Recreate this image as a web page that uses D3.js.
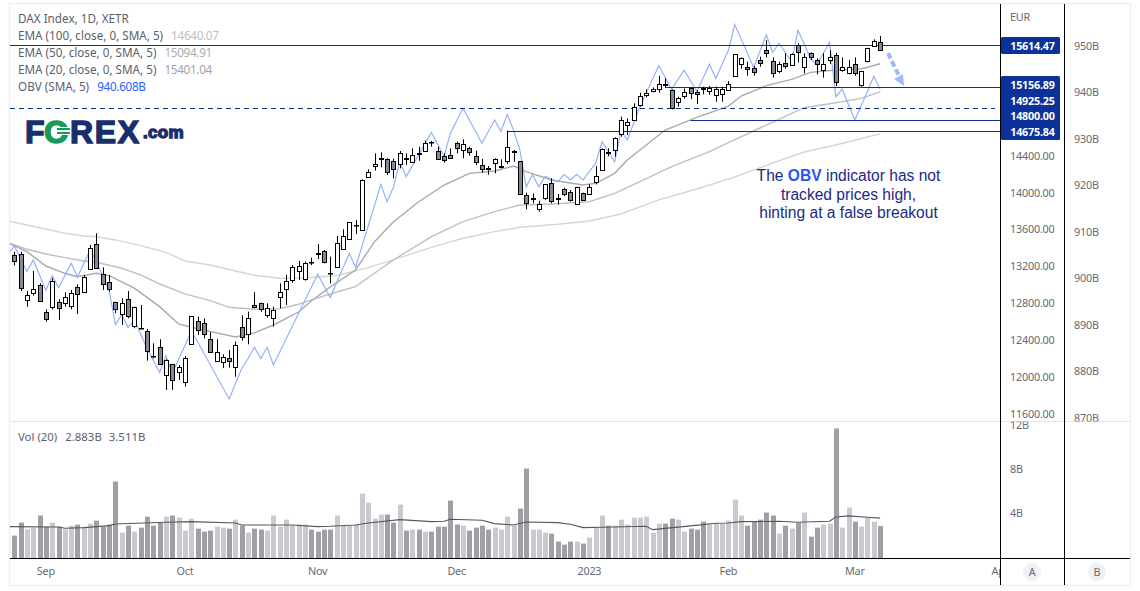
<!DOCTYPE html>
<html>
<head>
<meta charset="utf-8">
<script src="https://cdn.jsdelivr.net/npm/d3@7"></script>
<style>
html, body { margin: 0; padding: 0; background: #fff; overflow: hidden; }
text { font-family: "Noto Sans", sans-serif; font-size: 11.7px; fill: #5d606b; }
.tick-lbl { fill: #666973; font-size: 10.8px; letter-spacing: -0.2px; }
</style>
</head>
<body>
<div id="chart"></div>
<script>
// open, high, low, close
const ohlc = [
[13326,13362,13210,13264],[13333,13362,12935,12960],[12834,12935,12765,12888],[12906,13152,12884,12953],
[13004,13018,12819,12834],[12704,12736,12602,12628],[12758,13073,12733,13040],[12819,12845,12620,12758],
[12801,12921,12765,12866],[12769,12946,12736,12910],[12975,13007,12686,12899],[12921,13109,12917,13083],
[13170,13434,13167,13398],[13441,13561,13177,13181],[13123,13192,12946,13018],[13029,13109,12928,12953],
[12812,12819,12693,12736],[12678,12855,12566,12801],[12845,12935,12638,12660],[12552,12765,12530,12758],
[12530,12783,12524,12526],[12497,12523,12179,12280],[12226,12367,12204,12222],[12324,12411,12132,12139],
[12020,12194,11861,12183],[12139,12143,11861,11962],[12053,12132,11969,12107],[11944,12230,11897,12204],
[12356,12664,12353,12660],[12606,12657,12458,12508],[12584,12638,12421,12465],[12411,12487,12266,12270],
[12172,12411,12168,12270],[12161,12248,12100,12215],[12204,12295,12103,12168],[12107,12385,12005,12345],
[12541,12671,12396,12432],[12465,12711,12356,12638],[12780,12921,12747,12758],[12805,12808,12711,12736],
[12678,12801,12646,12754],[12638,12765,12548,12725],[12866,13018,12747,12921],[12964,13109,12783,13047],
[13047,13217,13025,13192],[13148,13261,13054,13203],[13062,13253,13047,13235],[13253,13297,13217,13250],
[13347,13445,13282,13333],[13365,13380,13235,13246],[13130,13308,13018,13127],[13192,13532,13188,13452],
[13383,13604,13380,13528],[13496,13684,13492,13680],[13651,13705,13553,13655],[13593,14147,13590,14136],
[14168,14255,14165,14223],[14284,14429,14241,14309],[14367,14440,14277,14375],[14364,14375,14194,14223],
[14342,14371,14157,14255],[14306,14454,14266,14429],[14382,14429,14302,14375],[14342,14483,14331,14414],
[14429,14501,14349,14422],[14450,14566,14447,14537],[14548,14563,14501,14545],[14458,14501,14371,14375],
[14396,14429,14327,14353],[14414,14483,14375,14385],[14537,14555,14429,14483],[14465,14581,14375,14526],
[14483,14501,14403,14440],[14396,14458,14302,14331],[14299,14367,14219,14255],[14266,14291,14197,14259],
[14320,14375,14212,14364],[14288,14364,14266,14295],[14342,14676,14313,14494],[14447,14465,14338,14454],
[14342,14346,13980,13984],[13973,14002,13821,13886],[13933,13995,13886,13940],[13821,13915,13796,13875],
[13937,14096,13922,14092],[14103,14157,13886,13908],[13940,13988,13872,13933],[14038,14056,13966,13980],
[14006,14031,13904,13915],[13879,14067,13875,14060],[13995,14002,13912,13919],[13984,14092,13980,14060],
[14110,14291,14092,14179],[14255,14483,14248,14479],[14440,14483,14396,14429],[14472,14602,14393,14599],
[14638,14827,14610,14787],[14729,14808,14628,14765],[14798,14971,14790,14935],[14953,15087,14935,15047],
[15054,15123,15036,15080],[15101,15145,15091,15123],[15123,15271,15087,15177],[15177,15243,15145,15170],
[15112,15123,14906,14913],[14982,15044,14935,15025],[15051,15134,15022,15091],[15134,15145,15018,15080],
[15091,15116,14964,15069],[15134,15152,15069,15123],[15109,15159,15065,15141],[15054,15152,14989,15123],
[15069,15152,14989,15123],[15116,15214,15109,15177],[15264,15507,15261,15503],[15405,15470,15347,15467],
[15362,15423,15271,15340],[15351,15376,15271,15308],[15438,15478,15369,15405],[15546,15658,15470,15514],
[15431,15470,15250,15297],[15315,15423,15297,15394],[15405,15514,15347,15373],[15384,15514,15380,15507],
[15601,15622,15416,15525],[15362,15514,15297,15470],[15514,15525,15441,15470],[15438,15460,15286,15394],
[15333,15514,15250,15394],[15441,15550,15398,15470],[15492,15521,15159,15203],[15337,15470,15315,15369],
[15297,15441,15286,15362],[15394,15470,15271,15297],[15163,15322,15152,15318],[15427,15575,15416,15568],
[15590,15666,15586,15644],[15633,15702,15542,15546]
];

// volume in billions, one per bar
const volume = [
2.02,3.19,2.59,2.74,3.83,2.83,3.19,2.83,2.59,2.92,3.01,2.74,3.10,3.37,2.83,3.01,6.90,2.29,2.92,2.38,
2.74,3.73,2.92,3.19,3.73,3.83,3.64,2.47,3.55,2.65,2.38,2.47,2.83,2.74,2.65,3.46,2.92,2.29,2.65,2.56,
2.47,3.83,2.83,3.46,2.92,3.01,3.01,2.56,2.38,2.56,2.56,3.83,2.92,2.92,3.01,5.81,5.00,3.55,3.92,3.92,
3.19,4.82,2.47,2.56,2.56,2.38,2.38,2.83,2.83,5.18,3.01,2.92,2.47,2.74,2.92,2.56,2.74,2.56,3.73,2.92,
4.46,8.07,2.56,2.56,2.29,2.20,1.48,1.20,1.48,1.48,1.30,1.84,2.74,3.83,2.92,2.92,3.46,3.01,3.64,3.64,
3.73,2.29,3.10,3.10,3.55,3.46,2.38,2.65,2.56,3.28,3.01,3.10,3.10,3.37,5.27,3.83,2.92,3.28,3.46,4.10,
3.83,2.20,2.92,2.65,3.19,4.10,1.93,2.74,3.01,3.10,11.69,2.74,4.55,3.28,2.83,3.64,3.28,2.88
];

// [bar, value], read at the bends of each line
const ema100 = [[-1,13695],[2,13651],[5,13608],[8,13561],[11,13532],[13,13524],[16,13489],[20,13427],[24,13355],[27,13261],[31,13217],[35,13152],[38,13106],[42,13073],[46,13076],[51,13103],[56,13188],[61,13297],[66,13409],[71,13507],[76,13579],[80,13626],[86,13659],[91,13695],[96,13771],[102,13923],[109,14064],[114,14172],[120,14324],[125,14443],[130,14519],[135,14606],[137,14640]];
const ema50 = [[-1,13459],[2,13388],[5,13337],[8,13297],[11,13261],[13,13247],[17,13182],[20,13109],[23,13011],[27,12903],[31,12830],[34,12758],[38,12737],[42,12743],[45,12791],[47,12838],[51,12924],[54,12982],[57,13127],[60,13272],[66,13524],[71,13687],[76,13796],[80,13868],[85,13879],[91,13904],[95,13995],[99,14121],[104,14284],[110,14447],[113,14544],[119,14736],[125,14924],[130,14978],[134,15026],[137,15095]];
const ema20 = [[-1,13459],[2,13362],[5,13206],[8,13127],[10,13090],[13,13127],[15,13101],[19,12965],[23,12765],[26,12577],[28,12541],[32,12480],[35,12436],[38,12480],[41,12566],[45,12707],[47,12827],[50,12979],[54,13163],[57,13470],[60,13687],[64,13904],[68,14085],[72,14212],[76,14237],[79,14291],[81,14230],[85,14140],[90,14085],[92,14104],[95,14212],[97,14357],[100,14519],[103,14682],[108,14820],[113,14942],[115,15051],[119,15163],[123,15232],[126,15308],[130,15333],[134,15344],[137,15401]];
const obv = [[-1,905.2],[0,907.0],[2,901.5],[3,904.0],[5,897.5],[6,900.6],[7,898.0],[9,903.3],[10,900.3],[12,906.1],[13,903.6],[15,897.5],[16,890.1],[17,892.2],[18,889.5],[19,891.1],[21,885.0],[23,879.8],[24,883.4],[25,879.6],[28,888.6],[29,886.4],[34,874.1],[36,880.7],[37,882.8],[38,885.2],[39,882.8],[40,885.2],[41,881.4],[48,900.9],[50,895.9],[53,905.4],[54,902.4],[58,920.2],[59,916.5],[60,919.7],[61,925.1],[62,921.9],[66,931.4],[68,926.3],[69,931.2],[71,936.6],[74,929.1],[76,934.1],[77,931.6],[78,935.3],[79,931.9],[80,927.6],[81,919.7],[82,922.3],[83,919.7],[84,922.0],[86,920.8],[87,922.4],[88,921.2],[89,922.4],[90,921.2],[92,924.8],[93,929.4],[95,925.1],[96,931.7],[97,929.8],[99,937.0],[102,945.8],[104,940.7],[106,944.8],[108,940.2],[110,946.1],[111,943.0],[113,949.1],[114,954.6],[117,945.4],[119,952.4],[120,948.6],[121,950.6],[123,946.6],[124,953.4],[126,947.3],[127,946.0],[129,950.8],[130,939.1],[131,940.7],[133,934.1],[135,940.2],[136,943.5],[137,940.7]];
const volMa = [[-1,2.83],[7,2.80],[8,2.68],[11,2.74],[15,2.92],[16,3.07],[24,3.22],[28,3.28],[35,3.16],[36,2.98],[44,2.98],[48,2.83],[50,2.86],[54,2.98],[56,3.16],[61,3.46],[66,3.28],[68,3.31],[69,3.49],[74,3.40],[76,3.10],[79,2.98],[81,3.25],[86,3.19],[88,3.04],[90,2.74],[93,2.77],[100,2.86],[101,2.56],[109,3.01],[111,3.13],[113,3.16],[115,3.28],[121,3.31],[124,3.22],[129,3.31],[130,3.70],[132,3.80],[135,3.67],[137,3.60]];

// horizontal levels drawn on the chart: start bar (null = full width), boxed label
const levels = [
    { v: 15614.47, from: null },
    { v: 15156.89, from: 103 },
    { v: 14925.25, from: null, dashed: true },
    { v: 14800.00, from: 107 },
    { v: 14675.84, from: 78 }
];

const months = [[5,"Sep"],[27,"Oct"],[48,"Nov"],[70,"Dec"],[91,"2023"],[113,"Feb"],[133,"Mar"],[156,"Apr"]];

class makeChart {

    constructor(opts) {
        this.element = opts.element;
        this.width = 1140;
        this.height = 591;
        this.pane = { left: 10, right: 1000, top: 4, split: 421.5, bottom: 558, end: 585, axisB: 1064, edge: 1130 };
        this._setScales();
        this.draw();
    }

    _setScales() {
        this.x = d3.scaleLinear().domain([0, 137]).range([14.3, 880.1]);
        this.y = d3.scaleLinear().domain([11600, 14400]).range([414, 156]);
        this.yObv = d3.scaleLinear().domain([870, 950]).range([418, 46]);
        this.yVol = d3.scaleLinear().domain([0, 12]).range([558, 425]);
    }

    draw() {
        const p = this.pane;
        this.svg = d3.select(this.element).append("svg")
            .attr("width", this.width).attr("height", this.height)
            .style("display", "block");

        let defs = this.svg.append("defs");
        let clip = (id, x, y, w, h) => defs.append("clipPath").attr("id", id)
            .append("rect").attr("x", x).attr("y", y).attr("width", w).attr("height", h);
        clip("main", p.left, p.top, p.right - p.left, p.split - p.top);
        clip("vol", p.left, p.split, p.right - p.left, p.bottom - p.split);
        clip("axis-top", p.right, p.top, p.edge - p.right, p.split - p.top);
        clip("axis-bot", p.right, p.split, p.edge - p.right, p.bottom - p.split);
        clip("time", p.left, p.bottom, p.right - p.left, p.end - p.bottom);

        this._drawFrame();
        this._drawVolume();
        this._drawMain();
        this._drawAxes();
        this._drawLabels();
    }

    _drawFrame() {
        const p = this.pane;
        this.svg.append("rect").attr("x", p.left - 0.5).attr("y", p.top - 0.5)
            .attr("width", p.edge - p.left + 1).attr("height", p.end - p.top + 1)
            .attr("fill", "none").attr("stroke", "#eff0f5").attr("stroke-width", 1.5);
        this.svg.append("line").attr("x1", p.left).attr("x2", p.edge)
            .attr("y1", p.split).attr("y2", p.split)
            .attr("stroke", "#e4e5ec").attr("stroke-width", 1);
    }

    _drawVolume() {
        const g = this.svg.append("g").attr("clip-path", "url(#vol)");
        g.selectAll("rect").data(volume).enter().append("rect")
            .attr("x", (d, i) => Math.round(this.x(i)) - 2)
            .attr("width", 5)
            .attr("y", d => this.yVol(d))
            .attr("height", d => this.yVol(0) - this.yVol(d))
            .attr("fill", (d, i) => ohlc[i][3] < ohlc[i][0] ? "#9fa0a6" : "#c9cad0");

        let line = d3.line().x(d => this.x(d[0])).y(d => this.yVol(d[1]));
        g.append("path").attr("d", line(volMa))
            .attr("fill", "none").attr("stroke", "#55575f").attr("stroke-width", 1.1);
    }

    _drawMain() {
        const p = this.pane;
        const g = this.svg.append("g").attr("clip-path", "url(#main)");

        let line = d3.line().x(d => this.x(d[0])).y(d => this.y(d[1]));
        [[ema100, "#d6d6d9"], [ema50, "#c0c0c4"], [ema20, "#a9a9ae"]].forEach(s => {
            g.append("path").attr("d", line(s[0]))
                .attr("fill", "none").attr("stroke", s[1]).attr("stroke-width", 1.4);
        });

        let obvLine = d3.line().x(d => this.x(d[0])).y(d => this.yObv(d[1]));
        g.append("path").attr("d", obvLine(obv))
            .attr("fill", "none").attr("stroke", "#94b2fa").attr("stroke-width", 1.2);

        levels.forEach(l => {
            let yy = Math.ceil(this.y(l.v)) + 0.5;
            g.append("line")
                .attr("x1", l.from === null ? p.left : this.x(l.from))
                .attr("x2", l.dashed ? 995 : p.right)
                .attr("y1", yy).attr("y2", yy)
                .attr("stroke", "#0d2f8f").attr("stroke-width", 1)
                .attr("stroke-dasharray", l.dashed ? "5,4" : null);
        });

        let bars = g.selectAll(".bar").data(ohlc).enter().append("g").attr("class", "bar")
            .attr("transform", (d, i) => `translate(${Math.round(this.x(i)) + 0.5},0)`);
        bars.append("line")
            .attr("x1", 0).attr("x2", 0)
            .attr("y1", d => this.y(d[1])).attr("y2", d => this.y(d[2]))
            .attr("stroke", "#000").attr("stroke-width", 1);
        bars.append("rect")
            .attr("x", -2).attr("width", 4)
            .attr("y", d => Math.round(this.y(Math.max(d[0], d[3]))) + 0.5)
            .attr("height", d => Math.max(0.5, Math.round(Math.abs(this.y(d[0]) - this.y(d[3])))))
            .attr("fill", d => d[3] < d[0] ? "#868993" : "#fff")
            .attr("stroke", "#000").attr("stroke-width", 1);

        // dashed arrow
        g.append("line").attr("x1", 888).attr("y1", 53).attr("x2", 899).attr("y2", 76)
            .attr("stroke", "#9db9fb").attr("stroke-width", 4).attr("stroke-dasharray", "6,3");
        g.append("path").attr("d", d3.line()([[894, 79], [903, 74], [904, 86]])).attr("fill", "#9db9fb");

        // note
        let note = g.append("g");
        let noteLine = (y, parts) => {
            let t = note.append("text").attr("x", 848.5).attr("y", y).attr("text-anchor", "middle");
            parts.forEach(s => {
                t.append("tspan").text(s[0])
                    .style("font-family", "'Liberation Sans', Arial, sans-serif")
                    .style("font-size", "15.6px")
                    .style("font-weight", s[1] ? "bold" : "normal")
                    .style("fill", s[1] ? "#2756f0" : "#1c2a84");
            });
        };
        noteLine(181, [["The ", 0], ["OBV", 1], [" indicator has not", 0]]);
        noteLine(200, [["tracked prices high,", 0]]);
        noteLine(218, [["hinting at a false breakout", 0]]);

        this._drawLogo(g);
    }

    _drawLogo(g) {
        let navy = "#182f6e";
        let logo = g.append("g");
        let put = (x, txt, size, col, ls) => logo.append("text").attr("x", x).attr("y", 142.5).text(txt)
            .style("font-family", "'Liberation Sans', Arial, sans-serif")
            .style("font-weight", "bold").style("font-size", size + "px")
            .style("letter-spacing", ls + "px")
            .style("stroke", col).style("stroke-width", 1.4).style("fill", col);
        put(25, "F", 32, navy, 0);
        put(44, "O", 32, "#189a58", 0);
        logo.append("rect").attr("x", 58).attr("y", 127).attr("width", 13).attr("height", 8).attr("fill", "#fff");
        logo.append("rect").attr("x", 57).attr("y", 128).attr("width", 13).attr("height", 2).attr("fill", "#189a58");
        logo.append("rect").attr("x", 57).attr("y", 132).attr("width", 13).attr("height", 2).attr("fill", "#189a58");
        put(70, "REX", 32, navy, 1.6);
        put(143, ".com", 17, navy, 0.3).attr("y", 138);
    }

    _drawAxes() {
        const p = this.pane;

        [p.right, p.axisB].forEach(x => {
            this.svg.append("line").attr("x1", x + 0.5).attr("x2", x + 0.5)
                .attr("y1", p.top).attr("y2", p.end)
                .attr("stroke", "#000").attr("stroke-width", 1);
        });
        this.svg.append("line").attr("x1", p.left).attr("x2", p.edge)
            .attr("y1", p.bottom + 0.5).attr("y2", p.bottom + 0.5)
            .attr("stroke", "#000").attr("stroke-width", 1);

        let top = this.svg.append("g").attr("clip-path", "url(#axis-top)");
        top.selectAll(".p").data(d3.range(11600, 14800, 400)).enter().append("text")
            .attr("class", "tick-lbl").attr("x", 1010).attr("y", d => this.y(d)).attr("dy", "0.35em")
            .text(d => d.toFixed(2));
        top.selectAll(".o").data(d3.range(870, 960, 10)).enter().append("text")
            .attr("class", "tick-lbl").attr("x", 1074).attr("y", d => this.yObv(d)).attr("dy", "0.35em")
            .text(d => d + "B");
        top.append("text").attr("class", "tick-lbl").attr("x", 1010).attr("y", 17).attr("dy", "0.35em").text("EUR");

        let bot = this.svg.append("g").attr("clip-path", "url(#axis-bot)");
        bot.selectAll("text").data([4, 8, 12]).enter().append("text")
            .attr("class", "tick-lbl").attr("x", 1010).attr("y", d => this.yVol(d)).attr("dy", "0.35em")
            .text(d => d + "B");

        let time = this.svg.append("g").attr("clip-path", "url(#time)");
        time.selectAll("text").data(months).enter().append("text")
            .attr("class", "tick-lbl").attr("x", d => this.x(d[0])).attr("y", 571).attr("dy", "0.35em")
            .attr("text-anchor", "middle").text(d => d[1]);

        [[1032, "A"], [1097, "B"]].forEach(b => {
            this.svg.append("circle").attr("cx", b[0]).attr("cy", 572).attr("r", 9).attr("fill", "#f0f1f5");
            this.svg.append("text").attr("class", "tick-lbl").attr("x", b[0]).attr("y", 572).attr("dy", "0.35em")
                .attr("text-anchor", "middle").text(b[1]);
        });
    }

    _drawLabels() {
        // boxed prices on the axis
        [[37, 17], [76, 64]].forEach(b => {
            this.svg.append("rect").attr("x", 1001).attr("y", b[0]).attr("width", 59).attr("height", b[1])
                .attr("rx", 1.5).attr("fill", "#0c3299");
        });
        let boxY = [46, 85.5, 101, 116, 132];
        levels.forEach((l, i) => {
            this.svg.append("text").attr("x", 1032.5).attr("y", boxY[i]).attr("dy", "0.35em")
                .attr("text-anchor", "middle").text(l.v.toFixed(2))
                .style("fill", "#fff").style("font-weight", "bold")
                .style("font-size", "10.8px").style("letter-spacing", "-0.2px");
        });

        // legend
        let legend = [
            [18.7, "DAX Index, 1D, XETR", null, null],
            [35.7, "EMA (100, close, 0, SMA, 5)", "14640.07", "#bcbdc4"],
            [52.7, "EMA (50, close, 0, SMA, 5)", "15094.91", "#aaabb2"],
            [69.7, "EMA (20, close, 0, SMA, 5)", "15401.04", "#a0a1a8"],
            [86.7, "OBV (SMA, 5)", "940.608B", "#2962ff"]
        ];
        legend.forEach(d => {
            let t = this.svg.append("text").attr("x", 18).attr("y", d[0]).attr("dy", "0.35em");
            t.append("tspan").text(d[1]);
            if (d[2]) {
                t.append("tspan").attr("dx", 8).text(d[2]).style("fill", d[3]).style("letter-spacing", "-0.3px");
            }
        });
        let vol = this.svg.append("text").attr("x", 18).attr("y", 437).attr("dy", "0.35em").style("font-size", "11.4px");
        vol.append("tspan").text("Vol (20)");
        vol.append("tspan").attr("dx", 8).text("2.883B");
        vol.append("tspan").attr("dx", 7).text("3.511B");
    }
}

new makeChart({ element: document.querySelector("#chart") });
</script>
</body>
</html>
